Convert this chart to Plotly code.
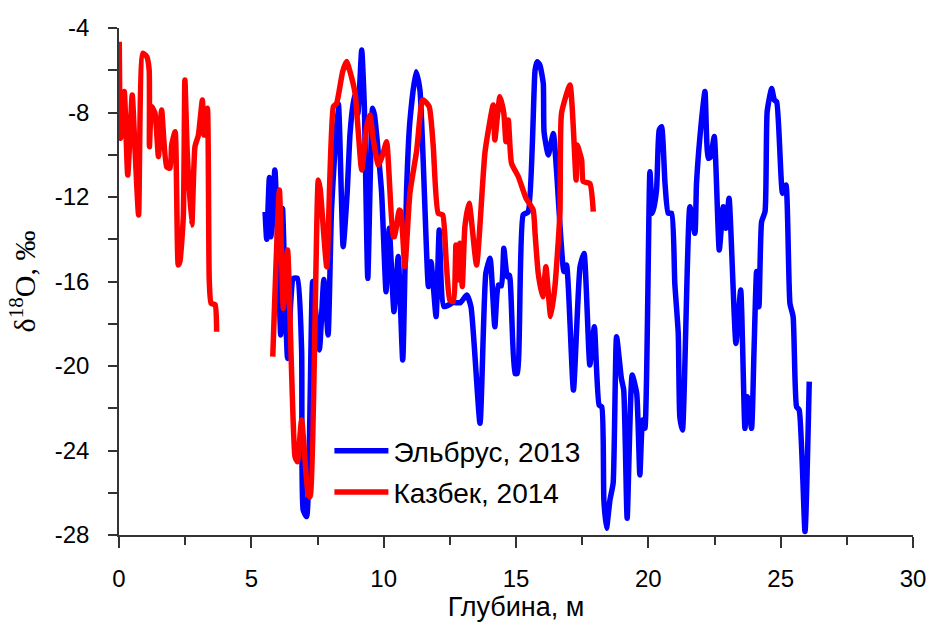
import plotly.graph_objects as go

# Elbrus 2013 (blue)
elbrus_depth = [5.52, 5.58, 5.68, 5.74, 5.89, 6.11, 6.18, 6.37, 6.59, 6.74, 6.9, 6.96, 7.09,
                7.32, 7.57, 7.74, 7.9, 8.03, 8.29, 8.47, 8.62, 8.73, 8.88, 9.02, 9.17, 9.27,
                9.4, 9.58, 9.65, 9.92, 10.09, 10.21, 10.39, 10.55, 10.72, 10.87, 10.99,
                11.22, 11.37, 11.69, 11.79, 11.98, 12.1, 12.28, 12.63, 12.9, 13.14, 13.3,
                13.64, 13.86, 14.02, 14.2, 14.33, 14.45, 14.54, 14.67, 14.75, 14.96, 15.05,
                15.27, 15.46, 15.72, 15.8, 15.9, 16.03, 16.06, 16.22, 16.41, 16.53, 16.81,
                16.91, 17.17, 17.42, 17.57, 17.79, 17.96, 18.14, 18.24, 18.32, 18.42, 18.55,
                18.67, 18.8, 18.98, 19.07, 19.2, 19.39, 19.56, 19.68, 19.78, 19.87, 20.06,
                20.16, 20.31, 20.41, 20.5, 20.63, 20.75, 20.88, 21.0, 21.13, 21.19, 21.29,
                21.57, 21.76, 21.82, 22.01, 22.14, 22.26, 22.35, 22.49, 22.68, 22.83, 22.93,
                23.05, 23.31, 23.49, 23.65, 23.74, 23.9, 23.99, 24.09, 24.18, 24.28, 24.41,
                24.49, 24.66, 24.76, 24.85, 25.07, 25.2, 25.35, 25.47, 25.6, 25.7, 25.92,
                26.08]
elbrus_d18o = [-12.7, -14.0, -11.08, -13.88, -10.72, -18.53, -12.54, -19.64, -15.85, -15.85,
               -19.24, -26.82, -27.13, -16.0, -19.24, -15.9, -18.53, -12.6, -7.6, -14.35,
               -11.83, -9.0, -7.2, -8.1, -5.04, -7.72, -15.85, -7.8, -8.1, -11.75, -16.48,
               -13.48, -17.43, -14.82, -19.72, -11.51, -8.43, -6.07, -6.94, -16.24, -15.06,
               -17.66, -13.56, -17.19, -17.0, -17.0, -16.64, -17.2, -22.71, -15.61, -14.9,
               -18.14, -16.17, -16.2, -14.43, -15.77, -15.7, -20.35, -20.35, -12.85, -12.7,
               -6.0, -5.6, -5.75, -6.62, -8.91, -10.01, -8.99, -10.72, -15.53, -15.22,
               -21.14, -15.3, -14.67, -19.95, -18.14, -21.85, -21.93, -26.34, -27.68, -26.34,
               -25.55, -18.61, -20.58, -21.14, -27.21, -20.43, -21.29, -25.16, -22.56, -22.95,
               -10.8, -12.77, -11.67, -8.83, -8.67, -11.36, -12.77, -12.77, -16.09, -18.45,
               -22.4, -23.03, -12.46, -13.72, -11.36, -8.36, -7.0, -10.17, -10.1, -9.14,
               -14.51, -12.46, -13.48, -12.06, -18.93, -16.4, -22.95, -21.45, -22.95, -19.4,
               -15.53, -17.19, -13.17, -12.69, -7.96, -6.86, -7.41, -7.5, -11.83, -11.43,
               -17.03, -17.66, -21.93, -22.08, -27.84, -20.74]

# Kazbek 2014 (red); None marks the gap in the record
kazbek_depth = [0.01, 0.06, 0.2, 0.33, 0.5, 0.6, 0.74, 0.9, 1.05, 1.14, 1.15, 1.23, 1.36,
                1.49, 1.61, 1.8, 1.93, 1.99, 2.12, 2.24, 2.3, 2.43, 2.49, 2.58, 2.75, 2.87,
                3.0, 3.15, 3.21, 3.34, 3.41, 3.48, 3.63, 3.69,
                None,
                5.81, 6.06, 6.21, 6.37, 6.65, 6.74, 6.9, 7.15, 7.22, 7.53, 7.6, 7.85, 8.1,
                8.22, 8.45, 8.6, 8.73, 8.92, 9.17, 9.36, 9.48, 9.61, 9.8, 9.96, 10.11, 10.36,
                10.41, 10.59, 10.65, 10.8, 10.99, 11.25, 11.44, 11.5, 11.72, 11.87, 12.06,
                12.23, 12.36, 12.5, 12.63, 12.73, 12.79, 12.88, 12.97, 13.07, 13.23, 13.51,
                13.83, 14.14, 14.2, 14.39, 14.54, 14.62, 14.71, 14.83, 15.09, 15.38, 15.65,
                15.72, 15.84, 16.01, 16.13, 16.31, 16.47, 16.66, 16.72, 17.04, 17.27, 17.31,
                17.48, 17.54, 17.79, 17.92]
kazbek_d18o = [-4.65, -9.22, -7.01, -10.96, -7.17, -9.62, -12.85, -5.2, -5.36, -6.0, -9.62,
               -7.72, -8.04, -10.09, -7.88, -10.57, -10.64, -9.54, -8.91, -15.22, -15.06,
               -12.93, -6.46, -9.93, -13.33, -9.62, -9.07, -7.41, -9.07, -7.8, -15.93,
               -17.03, -17.1, -18.38,
               None,
               -19.56, -11.67, -17.27, -14.51, -24.29, -24.53, -22.56, -26.1, -26.19, -11.2,
               -11.6, -15.3, -7.72, -7.57, -6.07, -5.59, -6.07, -7.09, -10.72, -8.67, -8.12,
               -9.3, -10.49, -10.01, -9.38, -13.88, -13.88, -12.62, -12.7, -15.3, -11.83,
               -9.78, -7.49, -7.41, -7.72, -9.54, -12.77, -12.85, -15.0, -16.88, -16.95,
               -14.27, -15.93, -14.19, -16.24, -13.4, -12.3, -15.22, -9.86, -7.64, -9.3,
               -7.25, -8.04, -9.38, -8.36, -10.4, -11.04, -12.06, -12.62, -13.72, -15.61,
               -16.72, -15.3, -17.66, -16.24, -12.77, -8.04, -6.7, -11.2, -9.54, -10.25,
               -11.27, -11.36, -12.69]

x_ticks = [0, 5, 10, 15, 20, 25, 30]
x_tick_labels = ["0", "5", "10", "15", "20", "25", "30"]
y_ticks = [-4, -8, -12, -16, -20, -24, -28]
y_tick_labels = ["-4", "-8", "-12", "-16", "-20", "-24", "-28"]

fig = go.Figure()
fig.add_trace(go.Scatter(x=elbrus_depth, y=elbrus_d18o, mode="lines",
                         name="Эльбрус, 2013", legendgroup="a",
                         line=dict(color="#0000ff", width=5.5, shape="spline", smoothing=0.5)))
fig.add_trace(go.Scatter(x=kazbek_depth, y=kazbek_d18o, mode="lines",
                         name="Казбек, 2014", legendgroup="b", connectgaps=False,
                         line=dict(color="#ff0000", width=5.5, shape="spline", smoothing=0.5)))

axis_color = "#333333"
fig.update_layout(
    width=931, height=626,
    margin=dict(l=119, r=18, t=28, b=91),
    paper_bgcolor="white", plot_bgcolor="white",
    font=dict(family="Liberation Sans, Arial, sans-serif", color="black", size=24),
    showlegend=True,
    legend=dict(x=0.265, y=0.215, xanchor="left", yanchor="top",
                bgcolor="rgba(0,0,0,0)", font=dict(size=28),
                itemwidth=54, tracegroupgap=2),
    xaxis=dict(range=[0, 30], tickvals=x_ticks, ticktext=x_tick_labels, ticks="outside",
               ticklen=11, tickwidth=1.5, tickcolor=axis_color, showline=True,
               linecolor=axis_color, linewidth=1.5, showgrid=False, zeroline=False,
               automargin=False, ticklabelstandoff=10,
               minor=dict(dtick=2.5, ticks="outside", ticklen=8, tickwidth=1.5,
                          tickcolor=axis_color, showgrid=False),
               title=dict(text="Глубина, м", font=dict(size=27), standoff=3),
               tickfont=dict(size=24)),
    yaxis=dict(range=[-28, -4], tickvals=y_ticks, ticktext=y_tick_labels, ticks="outside",
               ticklen=9, tickwidth=1.5, tickcolor=axis_color, showline=True,
               linecolor=axis_color, linewidth=1.5, showgrid=False, zeroline=False,
               automargin=False, ticklabelstandoff=14,
               minor=dict(dtick=2, ticks="outside", ticklen=9, tickwidth=1.5,
                          tickcolor=axis_color, showgrid=False),
               title=dict(text="δ<sup>18</sup>O, ‰",
                          font=dict(family="Liberation Serif, Times New Roman, serif", size=30),
                          standoff=10),
               tickfont=dict(size=24)),
)

fig.write_html("out.html")
